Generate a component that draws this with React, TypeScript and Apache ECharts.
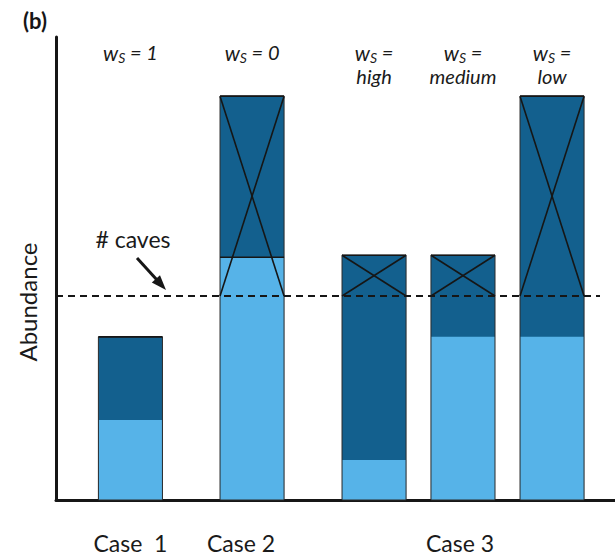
import React, { useEffect, useRef } from "react";
import * as echarts from "echarts";

// ---- data ----
const wsValues = ["1", "0", "high", "medium", "low"];
const barX = [0.61, 1.607, 2.607, 3.336, 4.066];
const lightValues = [19.6, 59.5, 9.8, 40, 40];
const totalValues = [40, 99, 60, 60, 99];
const cavesLevel = 50;
const caseLabels = ["Case  1", "Case 2", "Case 3"];
const caseAnchorBar = [0, 1, 3];

const DARK = "#13608e";
const LIGHT = "#56b3e8";
const INK = "#161616";
const FONT = "Lato, 'Open Sans', sans-serif";

export default function App() {
  const ref = useRef<HTMLDivElement>(null);
  useEffect(() => {
    if (!ref.current) return;
    const chart = echarts.init(ref.current, null, { renderer: "svg" });
    const barWidthUnits = 0.525;
    const dashEndX = 4.459;
    const caseOffsets = [0, -11, -3];

    const barData = barX.map((x, i) => [x, lightValues[i], totalValues[i]]);
    const caseData = caseAnchorBar.map((b, i) => [barX[b], 0, i]);

    const labelColor = "#1a1a1a";

    const option: any = {
      animation: false,
      grid: { left: 56, right: 0, top: 37, bottom: 57, containLabel: false },
      xAxis: {
        type: "value",
        min: 0,
        max: 4.582,
        axisLine: { show: true, lineStyle: { color: INK, width: 3 } },
        axisTick: { show: false },
        axisLabel: { show: false },
        splitLine: { show: false },
      },
      yAxis: {
        type: "value",
        min: 0,
        max: 113.5,
        axisLine: { show: true, lineStyle: { color: INK, width: 3 } },
        axisTick: { show: false },
        axisLabel: { show: false },
        splitLine: { show: false },
      },
      series: [
        {
          type: "custom",
          data: barData,
          z: 2,
          renderItem: (params: any, api: any) => {
            const x = api.value(0);
            const light = api.value(1);
            const total = api.value(2);
            const w = api.size([barWidthUnits, 0])[0];
            const p0 = api.coord([x, 0]);
            const cx = p0[0];
            const y0 = p0[1];
            const yTop = api.coord([x, total])[1];
            const yLight = api.coord([x, light])[1];
            const yCave = api.coord([x, cavesLevel])[1];
            const left = cx - w / 2;
            const right = cx + w / 2;
            const children: any[] = [
              {
                type: "rect",
                shape: { x: left, y: yTop, width: w, height: y0 - yTop },
                style: { fill: DARK },
              },
              {
                type: "rect",
                shape: { x: left, y: yLight, width: w, height: y0 - yLight },
                style: { fill: LIGHT },
              },
              {
                type: "rect",
                shape: { x: left, y: yTop, width: w, height: y0 - yTop },
                style: { fill: "none", stroke: "#2a2a2a", lineWidth: 1 },
              },
              {
                type: "line",
                shape: { x1: left, y1: yTop, x2: right, y2: yTop },
                style: { stroke: INK, lineWidth: 1.6 },
              },
            ];
            if (light > cavesLevel) {
              children.push({
                type: "line",
                shape: { x1: left, y1: yLight, x2: right, y2: yLight },
                style: { stroke: INK, lineWidth: 1.4 },
              });
            }
            if (total > cavesLevel) {
              children.push(
                {
                  type: "line",
                  shape: { x1: left, y1: yTop, x2: right, y2: yCave },
                  style: { stroke: INK, lineWidth: 1.6 },
                },
                {
                  type: "line",
                  shape: { x1: right, y1: yTop, x2: left, y2: yCave },
                  style: { stroke: INK, lineWidth: 1.6 },
                }
              );
            }
            const v = wsValues[params.dataIndex];
            const wrap = v.length > 1;
            const text = wrap
              ? "{w|w}{s|S}{t| =}\n{t|" + v + "}"
              : "{w|w}{s|S}{t| = " + v + "}";
            children.push({
              type: "text",
              x: cx,
              y: 40,
              style: {
                text,
                align: "center",
                verticalAlign: "top",
                fill: labelColor,
                rich: {
                  w: { fontFamily: FONT, fontStyle: "italic", fontSize: 21, lineHeight: 24, fill: labelColor },
                  s: { fontFamily: FONT, fontStyle: "italic", fontSize: 14, lineHeight: 16, verticalAlign: "bottom", fill: labelColor },
                  t: { fontFamily: FONT, fontStyle: "italic", fontSize: 20, lineHeight: 24, fill: labelColor },
                },
              },
            });
            return { type: "group", children };
          },
          markLine: {
            silent: true,
            symbol: ["none", "none"],
            label: { show: false },
            lineStyle: { type: [7, 5], width: 2, color: INK },
            data: [[{ coord: [0, cavesLevel] }, { coord: [dashEndX, cavesLevel] }]],
          },
        },
        {
          type: "custom",
          data: caseData,
          z: 3,
          renderItem: (params: any, api: any) => {
            const p = api.coord([api.value(0), 0]);
            const i = params.dataIndex;
            return {
              type: "text",
              x: p[0] + caseOffsets[i],
              y: p[1] + 43,
              style: {
                text: caseLabels[i],
                align: "center",
                verticalAlign: "middle",
                fontFamily: FONT,
                fontSize: 23,
                fill: labelColor,
              },
            };
          },
        },
      ],
      graphic: [
        {
          type: "text",
          x: 23,
          y: 20,
          style: { text: "(b)", fontFamily: FONT, fontWeight: "bold", fontSize: 22, fill: INK, verticalAlign: "middle" },
        },
        {
          type: "text",
          x: 27,
          y: 302,
          rotation: Math.PI / 2,
          style: { text: "Abundance", fontFamily: FONT, fontSize: 24, fill: labelColor, align: "center", verticalAlign: "middle" },
        },
        {
          type: "text",
          x: 133,
          y: 239,
          style: { text: "# caves", fontFamily: FONT, fontSize: 23, fill: labelColor, align: "center", verticalAlign: "middle" },
        },
        {
          type: "line",
          shape: { x1: 137, y1: 258, x2: 157, y2: 280 },
          style: { stroke: INK, lineWidth: 3 },
        },
        {
          type: "polygon",
          shape: { points: [[166, 290], [151.8, 282.6], [160.0, 275.2]] },
          style: { fill: INK },
        },
      ],
    };
    chart.setOption(option);
    return () => chart.dispose();
  }, []);
  return (
    <div
      ref={ref}
      style={{ position: "fixed", left: 0, top: 0, width: 615, height: 557, background: "#fff" }}
    />
  );
}
